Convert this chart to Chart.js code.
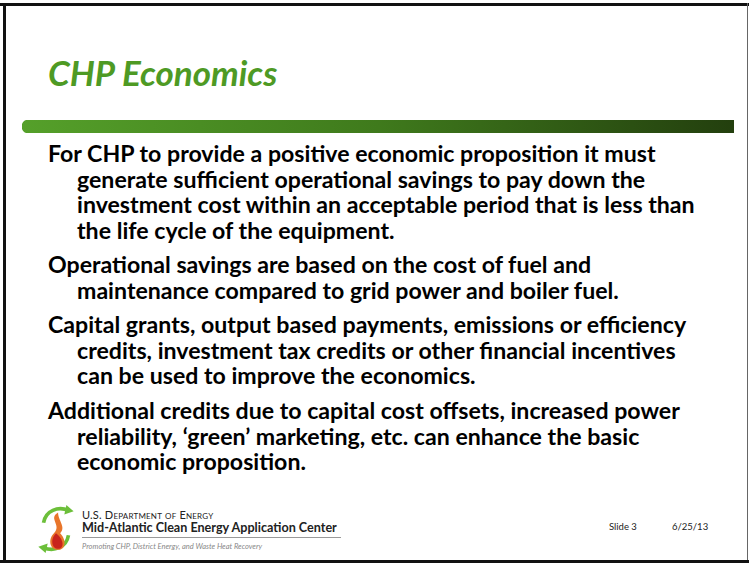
<!DOCTYPE html>
<html>
<head>
<meta charset="utf-8">
<script src="https://cdn.jsdelivr.net/npm/chart.js@4.4.0/dist/chart.umd.min.js"></script>
<style>
  html, body { margin: 0; padding: 0; background: #fff; }
  #slide {
    position: relative; width: 749px; height: 563px; overflow: hidden;
    font-family: Lato, 'Open Sans', sans-serif; color: #000;
  }
  .edge { position: absolute; background: #111; }
  #title {
    position: absolute; left: 48px; top: 51px;
    font-size: 35px; font-weight: bold; font-style: italic; color: #4e9a24;
    white-space: nowrap;
  }
  #rule { position: absolute; left: 22px; top: 120px; width: 712px; height: 13px; }
  .para {
    position: absolute; left: 48px; width: 695px;
    font-size: 23px; font-weight: bold; line-height: 25.5px;
    padding-left: 29px; text-indent: -29px; white-space: nowrap;
  }
  .foot { position: absolute; white-space: nowrap; }
</style>
</head>
<body>
<div id="slide">
  <div class="edge" style="left:0;top:3px;width:749px;height:3px;"></div>
  <div class="edge" style="left:3px;top:3px;width:3px;height:560px;"></div>
  <div class="edge" style="left:747px;top:3px;width:1px;height:560px;background:#666;"></div>
  <div class="edge" style="left:0;top:560px;width:749px;height:3px;"></div>

  <div id="title">CHP Economics</div>
  <div id="rule"><canvas id="rule-chart" width="712" height="13"></canvas></div>

  <div class="para" style="top:141px;">For CHP to provide a positive economic proposition it must<br>generate sufficient operational savings to pay down the<br>investment cost within an acceptable period that is less than<br>the life cycle of the equipment.</div>
  <div class="para" style="top:252px;">Operational savings are based on the cost of fuel and<br>maintenance compared to grid power and boiler fuel.</div>
  <div class="para" style="top:312px;">Capital grants, output based payments, emissions or efficiency<br>credits, investment tax credits or other financial incentives<br>can be used to improve the economics.</div>
  <div class="para" style="top:398px;">Additional credits due to capital cost offsets, increased power<br>reliability, ‘green’ marketing, etc. can enhance the basic<br>economic proposition.</div>

  <svg style="position:absolute;left:35px;top:502px;" width="42" height="54" viewBox="0 0 40 52">
    <path d="M8 20 C10 8 22 4 32 8" stroke="#6cbf3a" stroke-width="3.5" fill="none"/>
    <path d="M30 3 L37 9 L28 12 Z" fill="#6cbf3a"/>
    <path d="M32 32 C30 44 18 48 8 44" stroke="#6cbf3a" stroke-width="3.5" fill="none"/>
    <path d="M10 49 L3 43 L12 40 Z" fill="#6cbf3a"/>
    <path d="M22 10 C12 16 26 22 18 30 C12 36 14 46 22 46 C30 46 30 36 24 30 C30 24 22 18 22 10 Z" fill="#e8752a"/>
    <path d="M20 30 C14 36 16 45 22 45 C28 45 28 36 20 30 Z" fill="#c8241c"/>
  </svg>
  <div class="foot" style="left:82px;top:508px;font-size:11px;color:#222;font-variant:small-caps;letter-spacing:0.2px;">U.S. Department of Energy</div>
  <div class="foot" style="left:82px;top:520px;font-size:12.6px;font-weight:bold;color:#222;">Mid-Atlantic Clean Energy Application Center</div>
  <div class="foot" style="left:82px;top:537px;width:259px;height:1px;background:#999;"></div>
  <div class="foot" style="left:82px;top:542px;font-size:7.5px;font-style:italic;color:#888;">Promoting CHP, District Energy, and Waste Heat Recovery</div>
  <div class="foot" style="left:609px;top:521px;font-size:9.5px;color:#222;">Slide 3</div>
  <div class="foot" style="left:672px;top:521px;font-size:9.5px;color:#222;">6/25/13</div>
</div>
<script>
// size body text so the first line spans the same width as the slide (48 -> 657)
(function fitBody() {
  const c = document.createElement('canvas').getContext('2d');
  c.font = 'bold 20px Lato';
  const w = c.measureText('For CHP to provide a positive economic proposition it must').width;
  const size = 20 * 609 / w;
  document.querySelectorAll('.para').forEach(p => { p.style.fontSize = size.toFixed(2) + 'px'; });
})();

// decorative title rule, drawn as one horizontal bar
const ruleLabels = ['rule'];
const ruleValues = [1];

function ruleGradient(ctx) {
  const area = ctx.chart.chartArea;
  if (!area) return '#4e9a24';
  const g = ctx.chart.ctx.createLinearGradient(area.left, 0, area.right, 0);
  g.addColorStop(0, '#55a02a');
  g.addColorStop(0.5, '#3f7a1c');
  g.addColorStop(1, '#233f0e');
  return g;
}

new Chart(document.getElementById('rule-chart'), {
  type: 'bar',
  data: {
    labels: ruleLabels,
    datasets: [{
      data: ruleValues,
      backgroundColor: ruleGradient,
      borderWidth: 0,
      borderSkipped: false,
      borderRadius: { topLeft: 12, bottomLeft: 12, topRight: 0, bottomRight: 0 },
      barPercentage: 1,
      categoryPercentage: 1
    }]
  },
  options: {
    indexAxis: 'y',
    responsive: false,
    animation: false,
    layout: { padding: 0 },
    plugins: { legend: { display: false }, tooltip: { enabled: false } },
    scales: {
      x: { display: false, min: 0, max: 1 },
      y: { display: false }
    }
  }
});
</script>
</body>
</html>
